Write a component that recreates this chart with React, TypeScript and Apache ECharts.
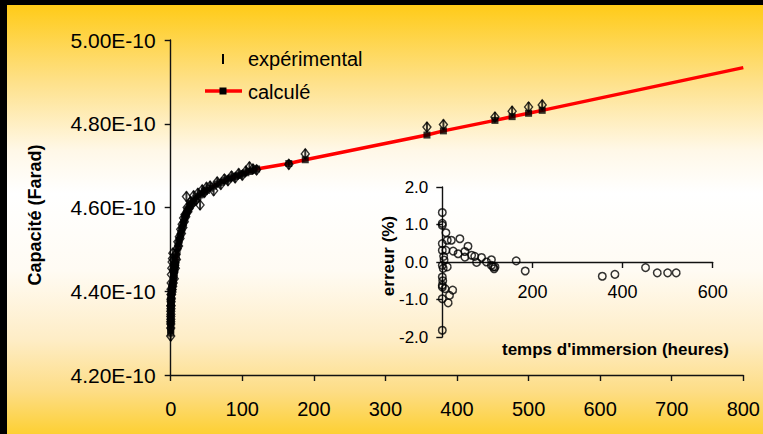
import React, { useEffect, useRef } from "react";
import * as echarts from "echarts";

// Capacité values are given in units of 1E-10 Farad
const times = [
  0, 0.02, 0.05, 0.08, 0.1, 0.12, 0.15, 0.2, 0.25, 0.3, 0.35, 0.4, 0.45, 0.5, 0.6, 0.7, 0.85, 1.0, 1.2, 1.5,
  1.8, 2, 2.2, 2.5, 2.8, 3, 3.5, 4, 4.5, 5, 5.5, 6, 6.5, 7, 8, 9, 10, 11, 12, 13,
  14, 15, 16, 17, 18, 19, 20, 21, 22, 23, 24, 26, 28, 29,
  32, 35, 38, 41, 44, 47, 50, 55, 60, 65, 70, 75, 80, 85, 90, 95, 100, 105, 110, 115, 120,
  165, 188, 358, 381, 453, 477, 500, 519,
];
const calcValues = [
  4.300, 4.307, 4.316, 4.325, 4.330, 4.335, 4.341, 4.350, 4.356, 4.362, 4.367, 4.371, 4.375, 4.378, 4.382, 4.386, 4.390, 4.394, 4.397, 4.402,
  4.406, 4.408, 4.410, 4.413, 4.416, 4.418, 4.424, 4.430, 4.437, 4.443, 4.450, 4.456, 4.463, 4.469, 4.482, 4.494, 4.506, 4.514, 4.522, 4.530,
  4.537, 4.544, 4.551, 4.558, 4.564, 4.571, 4.577, 4.582, 4.587, 4.592, 4.596, 4.603, 4.608, 4.610,
  4.616, 4.621, 4.626, 4.630, 4.634, 4.638, 4.641, 4.646, 4.651, 4.656, 4.660, 4.664, 4.668, 4.671, 4.674, 4.677, 4.680, 4.683, 4.686, 4.689, 4.692,
  4.705, 4.714, 4.773, 4.783, 4.808, 4.817, 4.825, 4.832,
];
const expValues = [
  4.293, 4.327, 4.312, 4.340, 4.322, 4.352, 4.333, 4.365, 4.345, 4.380, 4.358, 4.392, 4.366, 4.405, 4.375, 4.420, 4.383, 4.440, 4.392, 4.455,
  4.398, 4.470, 4.404, 4.478, 4.412, 4.491, 4.420, 4.452, 4.446, 4.430, 4.462, 4.468, 4.455, 4.488, 4.476, 4.502, 4.518, 4.508, 4.530, 4.526,
  4.548, 4.538, 4.560, 4.552, 4.575, 4.566, 4.583, 4.578, 4.626, 4.600, 4.590, 4.598, 4.614, 4.607,
  4.628, 4.617, 4.634, 4.606, 4.642, 4.636, 4.648, 4.651, 4.640, 4.661, 4.655, 4.668, 4.664, 4.675, 4.671, 4.681, 4.677, 4.687, 4.697, 4.692, 4.690,
  4.703, 4.728, 4.792, 4.798, 4.816, 4.830, 4.840, 4.845,
];
const extTimes = [800];
const extValues = [4.934];

const errTimes = [0, 0, 0, 8, 0, 11, 20, 39, 57, 0, 8, 24, 35, 50, 50, 65, 72, 87, 76, 98, 109, 113, 115, 117, 109, 164, 184, 355, 383, 451, 477, 500, 519, 0, 2, 0, 0, 0, 6, 23, 16, 0, 13, 0, 11, 1, 3, 4];
const errValues = [1.32, 1.03, 0.98, 0.78, 0.49, 0.58, 0.58, 0.62, 0.42, 0.31, 0.31, 0.29, 0.22, 0.28, 0.13, 0.18, 0.15, 0.12, -0.01, 0.0, 0.06, -0.13, -0.18, -0.13, -0.09, 0.03, -0.24, -0.38, -0.33, -0.15, -0.29, -0.29, -0.29, -0.09, -0.17, -0.4, -0.62, -0.67, -0.71, -0.75, -0.89, -0.98, -1.09, -1.82, -0.13, -0.5, 0.15, 0.05];

const mainXTicks = { min: 0, max: 800, interval: 100 };
const mainYTicks = { min: 4.2, max: 5.0, interval: 0.2 };
const insetXTicks = { min: 0, max: 600, interval: 200 };
const insetYTicks = { min: -2, max: 2, interval: 1 };

const FONT = 'Arial, "Liberation Sans", sans-serif';

export default function App() {
  const ref = useRef<HTMLDivElement>(null);
  useEffect(() => {
    if (!ref.current) return;
    const chart = echarts.init(ref.current, undefined, { renderer: "svg" });
    const calcData = times.map((t, i) => [t, calcValues[i]]);
    const lineData = calcData.concat(extTimes.map((t, i) => [t, extValues[i]]));
    const expData = times.map((t, i) => [t, expValues[i]]);
    const errData = errTimes.map((t, i) => [t, errValues[i]]);
    const axisLine = { show: true, lineStyle: { color: "#111", width: 1.4 } };
    const axisTick = { show: true, inside: false, length: 6, lineStyle: { color: "#111", width: 1.4 } };
    chart.setOption({
      animation: false,
      backgroundColor: "transparent",
      grid: [
        { left: 170.7, right: 17.3, top: 40, bottom: 59, containLabel: false },
        { left: 442.3, right: 50.3, top: 187, bottom: 97, containLabel: false },
      ],
      xAxis: [
        {
          type: "value", gridIndex: 0, ...mainXTicks,
          axisLine, axisTick, splitLine: { show: false },
          axisLabel: { fontSize: 20, fontFamily: FONT, color: "#000", margin: 24 },
        },
        {
          type: "value", gridIndex: 1, ...insetXTicks,
          axisLine: { ...axisLine, onZero: true }, axisTick, splitLine: { show: false },
          axisLabel: {
            fontSize: 18, fontFamily: FONT, color: "#000", margin: -54,
            formatter: (v: number) => (v === 0 ? "" : String(v)),
          },
        },
      ],
      yAxis: [
        {
          type: "value", gridIndex: 0, ...mainYTicks,
          axisLine, axisTick, splitLine: { show: false },
          axisLabel: {
            fontSize: 21, fontFamily: FONT, color: "#000", margin: 15,
            formatter: (v: number) => v.toFixed(2) + "E-10",
          },
        },
        {
          type: "value", gridIndex: 1, ...insetYTicks,
          axisLine, axisTick, splitLine: { show: false },
          axisLabel: {
            fontSize: 17, fontFamily: FONT, color: "#000", margin: 14,
            formatter: (v: number) => v.toFixed(1),
          },
        },
      ],
      series: [
        {
          type: "line", xAxisIndex: 0, yAxisIndex: 0, data: lineData,
          symbol: "none", lineStyle: { color: "#ff0000", width: 3.5 }, z: 2,
        },
        {
          type: "scatter", xAxisIndex: 0, yAxisIndex: 0, data: expData,
          symbol: "diamond", symbolSize: [8, 10],
          itemStyle: { color: "rgba(255,255,255,0)", borderColor: "#000", borderWidth: 1.4 }, z: 3,
        },
        {
          type: "scatter", xAxisIndex: 0, yAxisIndex: 0, data: calcData,
          symbol: "rect", symbolSize: 7, itemStyle: { color: "#000" }, z: 4,
        },
        {
          type: "scatter", xAxisIndex: 0, yAxisIndex: 0, data: expData,
          symbol: "rect", symbolSize: [2, 10], itemStyle: { color: "#000" }, z: 5,
        },
        {
          type: "scatter", xAxisIndex: 1, yAxisIndex: 1, data: errData,
          symbol: "circle", symbolSize: 7.5,
          itemStyle: { color: "rgba(255,255,255,0)", borderColor: "#000", borderWidth: 1.5 }, z: 3,
        },
      ],
      graphic: [
        {
          type: "text", x: 35, y: 215, rotation: Math.PI / 2,
          style: { text: "Capacité (Farad)", fill: "#000", font: `bold 18px ${FONT}`, textAlign: "center", textVerticalAlign: "middle", align: "center", verticalAlign: "middle" },
        },
        {
          type: "text", x: 388, y: 256, rotation: Math.PI / 2,
          style: { text: "erreur (%)", fill: "#000", font: `bold 17px ${FONT}`, textAlign: "center", textVerticalAlign: "middle", align: "center", verticalAlign: "middle" },
        },
        {
          type: "text", x: 729, y: 349,
          style: { text: "temps d'immersion (heures)", fill: "#000", font: `bold 17px ${FONT}`, textAlign: "right", textVerticalAlign: "middle", align: "right", verticalAlign: "middle" },
        },
        { type: "rect", shape: { x: 222, y: 54, width: 2, height: 10 }, style: { fill: "#000" } },
        {
          type: "text", x: 248, y: 59,
          style: { text: "expérimental", fill: "#000", font: `20px ${FONT}`, textAlign: "left", textVerticalAlign: "middle", align: "left", verticalAlign: "middle" },
        },
        { type: "line", shape: { x1: 205, y1: 91, x2: 242, y2: 91 }, style: { stroke: "#ff0000", lineWidth: 3.5 } },
        { type: "rect", shape: { x: 219.5, y: 87.5, width: 7, height: 7 }, style: { fill: "#000" } },
        {
          type: "text", x: 248, y: 92,
          style: { text: "calculé", fill: "#000", font: `20px ${FONT}`, textAlign: "left", textVerticalAlign: "middle", align: "left", verticalAlign: "middle" },
        },
      ],
    });
    return () => chart.dispose();
  }, []);

  return (
    <div style={{ position: "fixed", left: 0, top: 0, width: 763, height: 434, background: "#000", overflow: "hidden" }}>
      <div
        style={{
          position: "absolute", left: 7, top: 5, width: 756, height: 429,
          background: "linear-gradient(to bottom, #FFCB18 0%, #FEE18A 18%, #FFF8E8 34%, #FFFFFF 44%, #FFFBF3 62%, #FEEDC6 78%, #FDDD86 90%, #FDD033 100%)",
        }}
      />
      <div ref={ref} style={{ position: "absolute", left: 0, top: 0, width: 763, height: 434 }} />
    </div>
  );
}
